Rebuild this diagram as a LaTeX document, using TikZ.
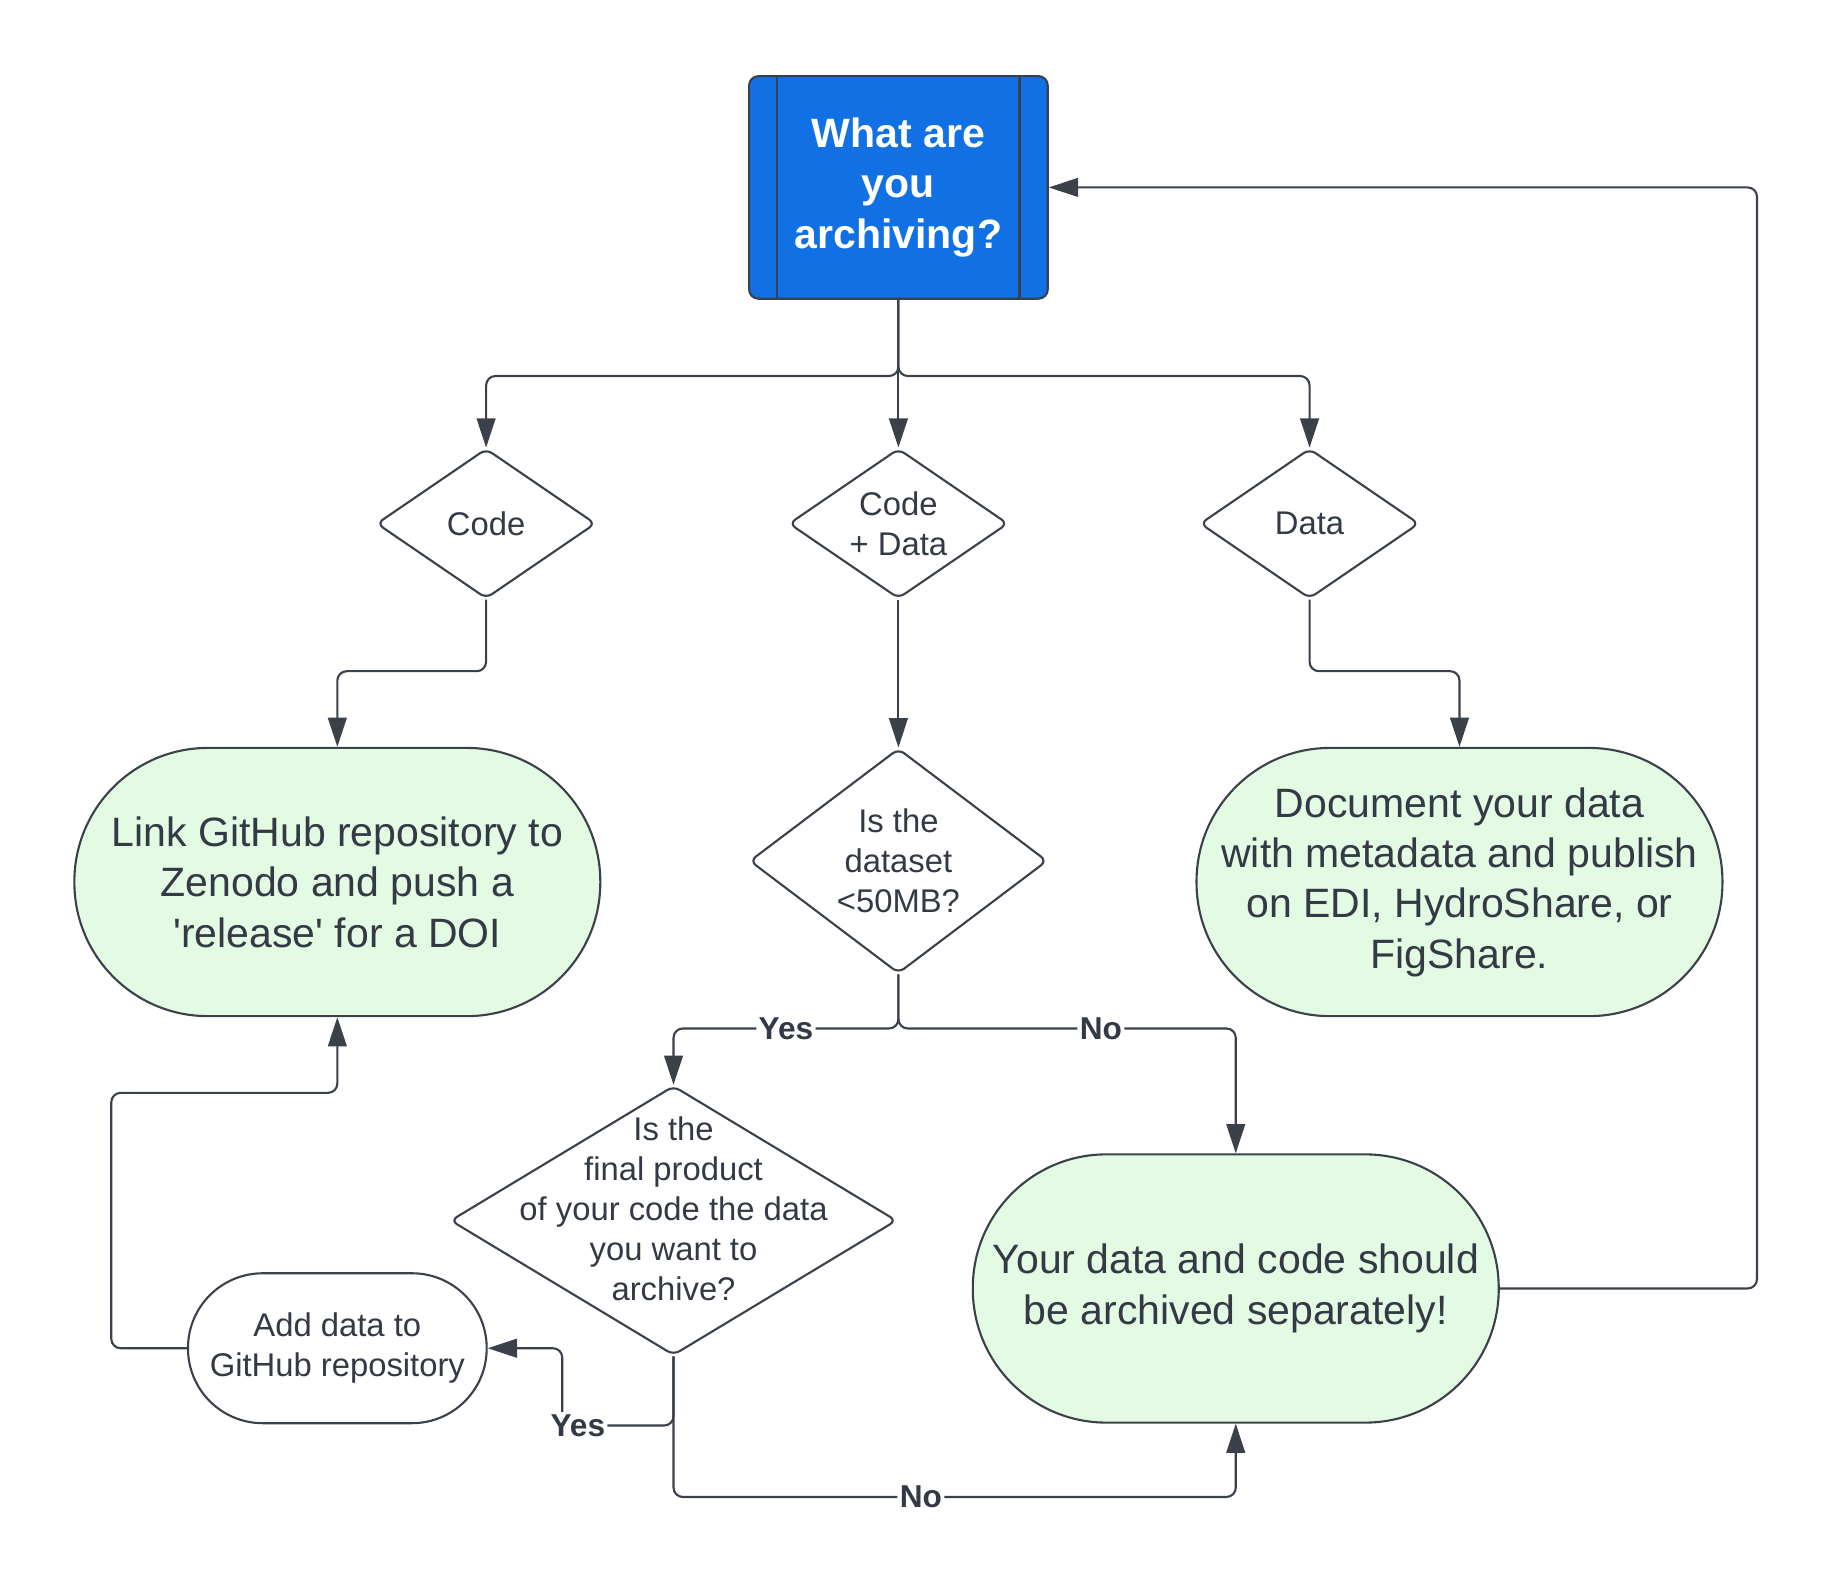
\documentclass[tikz,border=0pt]{standalone}
\usepackage{fontspec}
\setmainfont{Liberation Sans}
\usepackage{xcolor}
\usepackage{tikz}
\usetikzlibrary{arrows.meta,shapes.geometric,positioning}

\definecolor{lineclr}{HTML}{3A414A}
\definecolor{textclr}{HTML}{333A45}
\definecolor{startblue}{HTML}{1171E4}
\definecolor{endgreen}{HTML}{E3FAE3}

\begin{document}
\begin{tikzpicture}[
    x=0.5pt, y=-0.5pt,
    every node/.style={text=textclr, align=center},
    decision/.style={draw=lineclr, line width=0.9pt, diamond, aspect=1.45, inner sep=0pt, rounded corners=3pt, font=\fontsize{14}{17}\selectfont},
    outcome/.style={draw=lineclr, line width=0.9pt, fill=endgreen, inner sep=0pt, minimum width=224.5pt, minimum height=114.5pt, rounded corners=57pt, font=\fontsize{17.5}{21.5}\selectfont},
    flow/.style={draw=lineclr, line width=0.9pt, rounded corners=4pt, -{Triangle[length=12.5pt, width=8pt]}},
    answer/.style={fill=white, inner sep=1pt, font=\fontsize{13.5}{15}\bfseries\selectfont},
]
\useasboundingbox (0,0) rectangle (1570,1362);

\node [draw=lineclr, line width=0.9pt, fill=startblue, rounded corners=4pt, minimum width=127.5pt, minimum height=95pt, inner sep=0pt, text=white, font=\fontsize{17.5}{21.5}\bfseries\selectfont] (what) at (767,160) {What are\\you\\archiving?};
\draw [lineclr, line width=0.9pt] ([xshift=12.5pt]what.north west) -- ([xshift=12.5pt]what.south west);
\draw [lineclr, line width=0.9pt] ([xshift=-12.5pt]what.north east) -- ([xshift=-12.5pt]what.south east);

\node [decision, minimum width=93.5pt, minimum height=64pt] (code) at (415,447) {Code};
\node [decision, minimum width=93.5pt, minimum height=64pt] (both) at (767,447) {Code\\+ Data};
\node [decision, minimum width=93.5pt, minimum height=64pt] (data) at (1118,447) {Data};

\node [outcome] (github) at (288,753) {Link GitHub repository to\\Zenodo and push a\\\textquotesingle release\textquotesingle{} for a DOI};
\node [outcome] (publish) at (1246,753) {Document your data\\with metadata and publish\\on EDI, HydroShare, or\\FigShare.};

\node [decision, minimum width=127pt, minimum height=96pt] (size) at (767,735) {Is the\\dataset\\<50MB?};
\node [decision, minimum width=190.5pt, minimum height=115pt] (final) at (575,1042) {};
\node [font=\fontsize{14}{17}\selectfont] (finaltext) at (575,1032) {Is the\\final product\\of your code the data\\you want to\\archive?};

\node [outcome] (separate) at (1055,1100) {Your data and code should\\be archived separately!};
\node [draw=lineclr, line width=0.9pt, fill=white, inner sep=0pt, minimum width=127.5pt, minimum height=64pt, rounded corners=31.9pt, font=\fontsize{14}{17}\selectfont] (add) at (288,1151) {Add data to\\GitHub repository};

\coordinate (split) at (767,321);
\coordinate (codebend) at (415,573);
\coordinate (databend) at (1118,573);
\coordinate (sizebend) at (767,878);
\coordinate (yesbend) at (480,1217);
\coordinate (nobend) at (575,1278);
\coordinate (backcorner) at (95,933);
\coordinate (loopcorner) at (1500,160);

\draw [flow] (what.south) -- (split) -| (code.north);
\draw [flow] (what.south) -- (both.north);
\draw [flow] (what.south) -- (split) -| (data.north);
\draw [flow] (code.south) -- (codebend) -| (github.north);
\draw [flow] (data.south) -- (databend) -| (publish.north);
\draw [flow] (both.south) -- (size.north);
\draw [flow] (size.south) -- (sizebend) -| node [answer, pos=0.25] (sizeyes) {Yes} (final.north);
\draw [flow] (size.south) -- (sizebend) -| node [answer, pos=0.3] (sizeno) {No} (separate.north);
\draw [flow] (final.south) |- node [answer, pos=0.93] (finalyes) {Yes} (yesbend) |- (add.east);
\draw [flow] (final.south) -- (nobend) -| node [answer, pos=0.22] (finalno) {No} (separate.south);
\draw [flow] (add.west) -| (backcorner) -| (github.south);
\draw [flow] (separate.east) -| (loopcorner) -- (what.east);
\end{tikzpicture}
\end{document}
